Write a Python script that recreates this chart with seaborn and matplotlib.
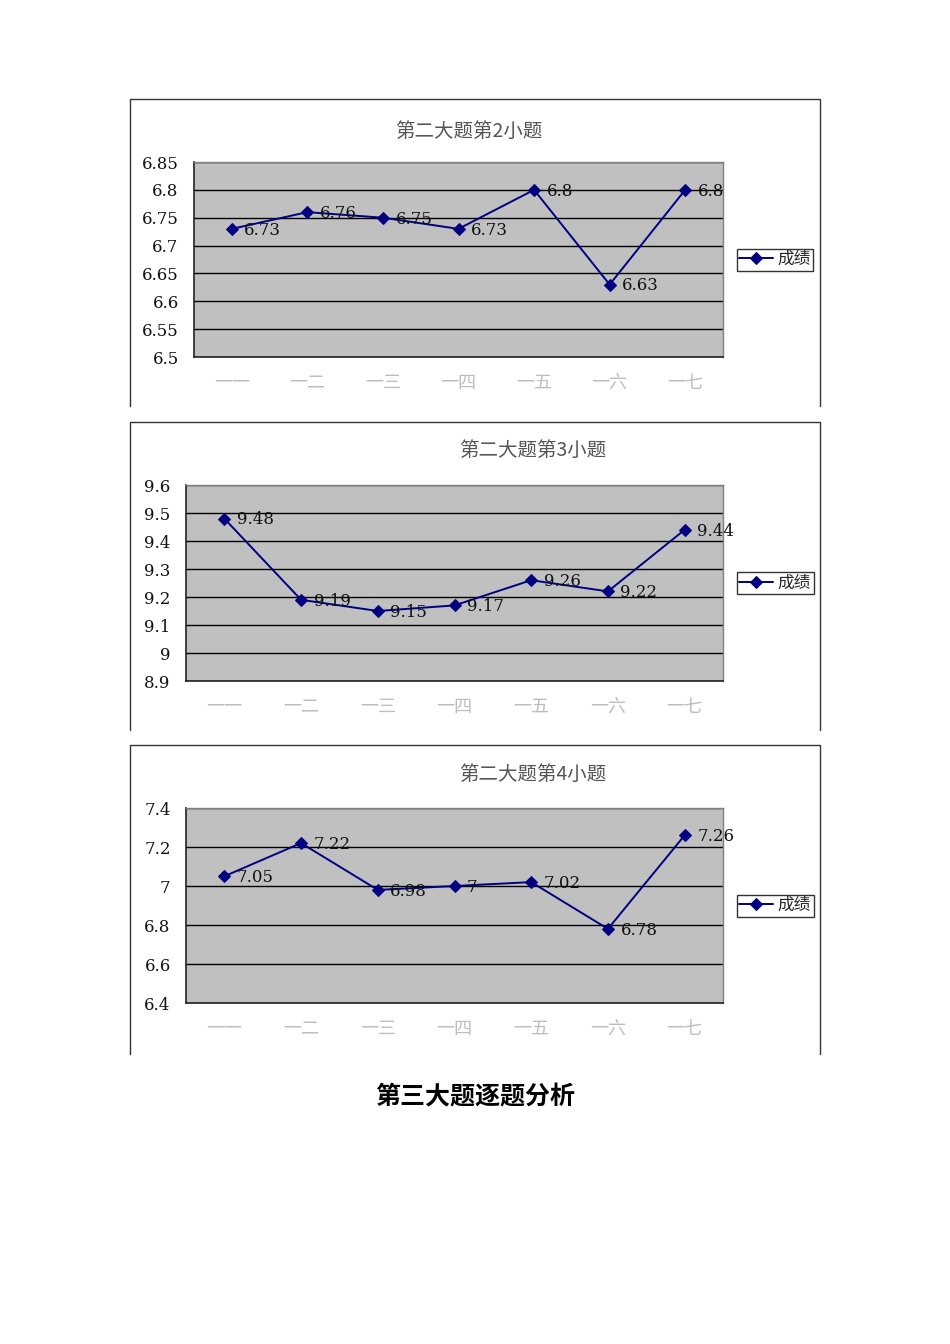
import matplotlib
matplotlib.use("Agg")
import matplotlib.pyplot as plt
from matplotlib.lines import Line2D
import seaborn as sns
import pandas as pd

# data
categories = ["一一", "一二", "一三", "一四", "一五", "一六", "一七"]
scores_q2 = [6.73, 6.76, 6.75, 6.73, 6.8, 6.63, 6.8]
scores_q3 = [9.48, 9.19, 9.15, 9.17, 9.26, 9.22, 9.44]
scores_q4 = [7.05, 7.22, 6.98, 7, 7.02, 6.78, 7.26]
yticks_q2 = [6.5, 6.55, 6.6, 6.65, 6.7, 6.75, 6.8, 6.85]
yticks_q3 = [8.9, 9.0, 9.1, 9.2, 9.3, 9.4, 9.5, 9.6]
yticks_q4 = [6.4, 6.6, 6.8, 7.0, 7.2, 7.4]
titles = ["第二大题第2小题", "第二大题第3小题", "第二大题第4小题"]
series_name = "成绩"
heading = "第三大题逐题分析"

sns.set_style("white")
plt.rcParams["font.family"] = ["Noto Sans CJK SC", "DejaVu Sans"]

W, H = 950, 1344
fig = plt.figure(figsize=(W / 100, H / 100), dpi=100)

def fx(px):
    return px / W

def fy(py):
    return 1 - py / H

# layout in pixels: axes box, outer frame, title position
panels = [
    dict(scores=scores_q2, yticks=yticks_q2, title=titles[0],
         box=(194, 162, 723, 357), frame=(99, 406), tpos=(469, 131)),
    dict(scores=scores_q3, yticks=yticks_q3, title=titles[1],
         box=(186, 485, 723, 681), frame=(422, 730), tpos=(533, 450)),
    dict(scores=scores_q4, yticks=yticks_q4, title=titles[2],
         box=(186, 808, 723, 1003), frame=(745, 1054), tpos=(533, 774)),
]

navy = "#000080"
num_font = "DejaVu Serif"

for p in panels:
    x0, y0, x1, y1 = p["box"]
    ax = fig.add_axes([fx(x0), fy(y1), fx(x1) - fx(x0), fy(y0) - fy(y1)])
    ax.set_facecolor("#c0c0c0")

    df = pd.DataFrame({"cat": categories, "score": p["scores"]})
    sns.lineplot(data=df, x="cat", y="score", ax=ax, color=navy,
                 marker="D", markersize=6, markeredgecolor=navy,
                 linewidth=1.4, label=series_name, sort=False)

    for i, v in enumerate(p["scores"]):
        ax.annotate(f"{v:g}", (i, v), xytext=(9, -1), textcoords="offset points",
                    ha="left", va="center", fontsize=12, family=num_font,
                    color="#111111")

    ax.set_xlim(-0.5, len(categories) - 0.5)
    ax.set_ylim(p["yticks"][0], p["yticks"][-1])
    ax.set_yticks(p["yticks"])
    ax.set_yticklabels([f"{t:g}" for t in p["yticks"]], family=num_font,
                       fontsize=12, color="#111111")
    ax.tick_params(axis="y", length=0, pad=11)
    ax.set_xticks(range(len(categories)))
    ax.set_xticklabels(categories, fontsize=13, color="#bdbdbd")
    ax.set_xticks([i + 0.5 for i in range(len(categories) - 1)], minor=True)
    ax.tick_params(axis="x", which="major", length=0, pad=12)
    ax.tick_params(axis="x", which="minor", direction="in", length=3.5,
                   width=1, color="#222222")
    ax.set_xlabel("")
    ax.set_ylabel("")
    ax.grid(axis="y", color="#000000", linewidth=1)
    ax.grid(axis="x", visible=False)
    ax.set_axisbelow(True)
    for side in ["left", "bottom"]:
        ax.spines[side].set_color("#222222")
        ax.spines[side].set_linewidth(1.2)
    for side in ["top", "right"]:
        ax.spines[side].set_color("#808080")
        ax.spines[side].set_linewidth(1)

    leg = ax.legend(loc="center left", bbox_to_anchor=(1.026, 0.5),
                    fancybox=False, frameon=True, fontsize=12,
                    borderpad=0.15, handlelength=2.0, handletextpad=0.3,
                    borderaxespad=0)
    leg.get_frame().set_edgecolor("#000000")
    leg.get_frame().set_linewidth(1)

    fig.text(fx(p["tpos"][0]), fy(p["tpos"][1]), p["title"], ha="center",
             va="center", fontsize=14, fontweight="light", color="#555555")

    ftop, fbot = p["frame"]
    fig.add_artist(Line2D([fx(130), fx(130), fx(820), fx(820)],
                          [fy(fbot), fy(ftop), fy(ftop), fy(fbot)],
                          transform=fig.transFigure, color="#333333",
                          linewidth=1))

fig.text(fx(475), fy(1097), heading, ha="center", va="center",
         fontsize=18, fontweight="bold", color="#000000")

fig.savefig("out.png", dpi=100)
